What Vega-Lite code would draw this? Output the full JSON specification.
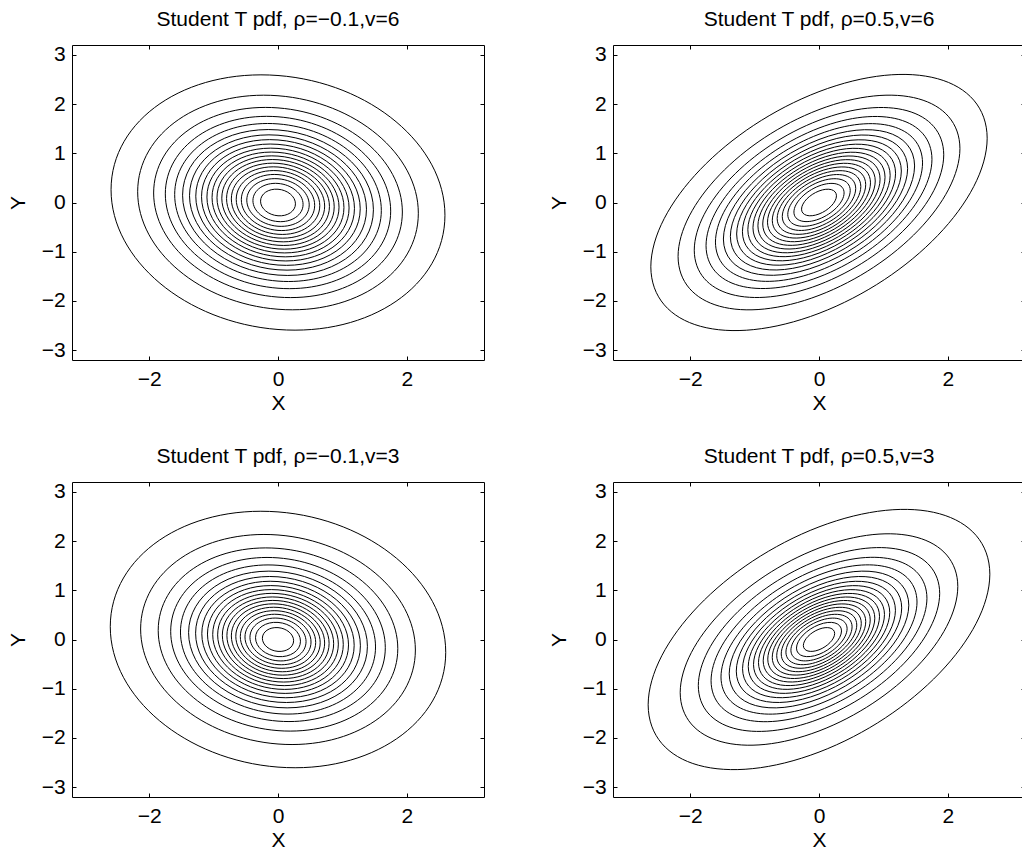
{
  "$schema": "https://vega.github.io/schema/vega-lite/v6.json",
  "background": "white",
  "padding": {"left": 6, "top": 8, "right": 0, "bottom": 0},
  "datasets": {
    "contours": [
      {"panel": "A", "rho": -0.1, "nu": 6, "level": 1, "r": 2.5933, "x": 0, "y": 0},
      {"panel": "A", "rho": -0.1, "nu": 6, "level": 2, "r": 2.1800, "x": 0, "y": 0},
      {"panel": "A", "rho": -0.1, "nu": 6, "level": 3, "r": 1.9318, "x": 0, "y": 0},
      {"panel": "A", "rho": -0.1, "nu": 6, "level": 4, "r": 1.7504, "x": 0, "y": 0},
      {"panel": "A", "rho": -0.1, "nu": 6, "level": 5, "r": 1.6051, "x": 0, "y": 0},
      {"panel": "A", "rho": -0.1, "nu": 6, "level": 6, "r": 1.4822, "x": 0, "y": 0},
      {"panel": "A", "rho": -0.1, "nu": 6, "level": 7, "r": 1.3744, "x": 0, "y": 0},
      {"panel": "A", "rho": -0.1, "nu": 6, "level": 8, "r": 1.2772, "x": 0, "y": 0},
      {"panel": "A", "rho": -0.1, "nu": 6, "level": 9, "r": 1.1878, "x": 0, "y": 0},
      {"panel": "A", "rho": -0.1, "nu": 6, "level": 10, "r": 1.1041, "x": 0, "y": 0},
      {"panel": "A", "rho": -0.1, "nu": 6, "level": 11, "r": 1.0245, "x": 0, "y": 0},
      {"panel": "A", "rho": -0.1, "nu": 6, "level": 12, "r": 0.9479, "x": 0, "y": 0},
      {"panel": "A", "rho": -0.1, "nu": 6, "level": 13, "r": 0.8731, "x": 0, "y": 0},
      {"panel": "A", "rho": -0.1, "nu": 6, "level": 14, "r": 0.7991, "x": 0, "y": 0},
      {"panel": "A", "rho": -0.1, "nu": 6, "level": 15, "r": 0.7248, "x": 0, "y": 0},
      {"panel": "A", "rho": -0.1, "nu": 6, "level": 16, "r": 0.6489, "x": 0, "y": 0},
      {"panel": "A", "rho": -0.1, "nu": 6, "level": 17, "r": 0.5699, "x": 0, "y": 0},
      {"panel": "A", "rho": -0.1, "nu": 6, "level": 18, "r": 0.4850, "x": 0, "y": 0},
      {"panel": "A", "rho": -0.1, "nu": 6, "level": 19, "r": 0.3895, "x": 0, "y": 0},
      {"panel": "A", "rho": -0.1, "nu": 6, "level": 20, "r": 0.2711, "x": 0, "y": 0},
      {"panel": "B", "rho": 0.5, "nu": 6, "level": 1, "r": 2.6125, "x": 0, "y": 0},
      {"panel": "B", "rho": 0.5, "nu": 6, "level": 2, "r": 2.1893, "x": 0, "y": 0},
      {"panel": "B", "rho": 0.5, "nu": 6, "level": 3, "r": 1.9378, "x": 0, "y": 0},
      {"panel": "B", "rho": 0.5, "nu": 6, "level": 4, "r": 1.7548, "x": 0, "y": 0},
      {"panel": "B", "rho": 0.5, "nu": 6, "level": 5, "r": 1.6085, "x": 0, "y": 0},
      {"panel": "B", "rho": 0.5, "nu": 6, "level": 6, "r": 1.4850, "x": 0, "y": 0},
      {"panel": "B", "rho": 0.5, "nu": 6, "level": 7, "r": 1.3767, "x": 0, "y": 0},
      {"panel": "B", "rho": 0.5, "nu": 6, "level": 8, "r": 1.2792, "x": 0, "y": 0},
      {"panel": "B", "rho": 0.5, "nu": 6, "level": 9, "r": 1.1895, "x": 0, "y": 0},
      {"panel": "B", "rho": 0.5, "nu": 6, "level": 10, "r": 1.1055, "x": 0, "y": 0},
      {"panel": "B", "rho": 0.5, "nu": 6, "level": 11, "r": 1.0258, "x": 0, "y": 0},
      {"panel": "B", "rho": 0.5, "nu": 6, "level": 12, "r": 0.9490, "x": 0, "y": 0},
      {"panel": "B", "rho": 0.5, "nu": 6, "level": 13, "r": 0.8740, "x": 0, "y": 0},
      {"panel": "B", "rho": 0.5, "nu": 6, "level": 14, "r": 0.7999, "x": 0, "y": 0},
      {"panel": "B", "rho": 0.5, "nu": 6, "level": 15, "r": 0.7255, "x": 0, "y": 0},
      {"panel": "B", "rho": 0.5, "nu": 6, "level": 16, "r": 0.6496, "x": 0, "y": 0},
      {"panel": "B", "rho": 0.5, "nu": 6, "level": 17, "r": 0.5704, "x": 0, "y": 0},
      {"panel": "B", "rho": 0.5, "nu": 6, "level": 18, "r": 0.4854, "x": 0, "y": 0},
      {"panel": "B", "rho": 0.5, "nu": 6, "level": 19, "r": 0.3898, "x": 0, "y": 0},
      {"panel": "B", "rho": 0.5, "nu": 6, "level": 20, "r": 0.2713, "x": 0, "y": 0},
      {"panel": "C", "rho": -0.1, "nu": 3, "level": 1, "r": 2.6055, "x": 0, "y": 0},
      {"panel": "C", "rho": -0.1, "nu": 3, "level": 2, "r": 2.1340, "x": 0, "y": 0},
      {"panel": "C", "rho": -0.1, "nu": 3, "level": 3, "r": 1.8609, "x": 0, "y": 0},
      {"panel": "C", "rho": -0.1, "nu": 3, "level": 4, "r": 1.6669, "x": 0, "y": 0},
      {"panel": "C", "rho": -0.1, "nu": 3, "level": 5, "r": 1.5150, "x": 0, "y": 0},
      {"panel": "C", "rho": -0.1, "nu": 3, "level": 6, "r": 1.3889, "x": 0, "y": 0},
      {"panel": "C", "rho": -0.1, "nu": 3, "level": 7, "r": 1.2801, "x": 0, "y": 0},
      {"panel": "C", "rho": -0.1, "nu": 3, "level": 8, "r": 1.1833, "x": 0, "y": 0},
      {"panel": "C", "rho": -0.1, "nu": 3, "level": 9, "r": 1.0954, "x": 0, "y": 0},
      {"panel": "C", "rho": -0.1, "nu": 3, "level": 10, "r": 1.0141, "x": 0, "y": 0},
      {"panel": "C", "rho": -0.1, "nu": 3, "level": 11, "r": 0.9376, "x": 0, "y": 0},
      {"panel": "C", "rho": -0.1, "nu": 3, "level": 12, "r": 0.8646, "x": 0, "y": 0},
      {"panel": "C", "rho": -0.1, "nu": 3, "level": 13, "r": 0.7939, "x": 0, "y": 0},
      {"panel": "C", "rho": -0.1, "nu": 3, "level": 14, "r": 0.7246, "x": 0, "y": 0},
      {"panel": "C", "rho": -0.1, "nu": 3, "level": 15, "r": 0.6555, "x": 0, "y": 0},
      {"panel": "C", "rho": -0.1, "nu": 3, "level": 16, "r": 0.5855, "x": 0, "y": 0},
      {"panel": "C", "rho": -0.1, "nu": 3, "level": 17, "r": 0.5130, "x": 0, "y": 0},
      {"panel": "C", "rho": -0.1, "nu": 3, "level": 18, "r": 0.4357, "x": 0, "y": 0},
      {"panel": "C", "rho": -0.1, "nu": 3, "level": 19, "r": 0.3492, "x": 0, "y": 0},
      {"panel": "C", "rho": -0.1, "nu": 3, "level": 20, "r": 0.2426, "x": 0, "y": 0},
      {"panel": "D", "rho": 0.5, "nu": 3, "level": 1, "r": 2.6540, "x": 0, "y": 0},
      {"panel": "D", "rho": 0.5, "nu": 3, "level": 2, "r": 2.1563, "x": 0, "y": 0},
      {"panel": "D", "rho": 0.5, "nu": 3, "level": 3, "r": 1.8748, "x": 0, "y": 0},
      {"panel": "D", "rho": 0.5, "nu": 3, "level": 4, "r": 1.6768, "x": 0, "y": 0},
      {"panel": "D", "rho": 0.5, "nu": 3, "level": 5, "r": 1.5225, "x": 0, "y": 0},
      {"panel": "D", "rho": 0.5, "nu": 3, "level": 6, "r": 1.3949, "x": 0, "y": 0},
      {"panel": "D", "rho": 0.5, "nu": 3, "level": 7, "r": 1.2849, "x": 0, "y": 0},
      {"panel": "D", "rho": 0.5, "nu": 3, "level": 8, "r": 1.1874, "x": 0, "y": 0},
      {"panel": "D", "rho": 0.5, "nu": 3, "level": 9, "r": 1.0989, "x": 0, "y": 0},
      {"panel": "D", "rho": 0.5, "nu": 3, "level": 10, "r": 1.0171, "x": 0, "y": 0},
      {"panel": "D", "rho": 0.5, "nu": 3, "level": 11, "r": 0.9401, "x": 0, "y": 0},
      {"panel": "D", "rho": 0.5, "nu": 3, "level": 12, "r": 0.8668, "x": 0, "y": 0},
      {"panel": "D", "rho": 0.5, "nu": 3, "level": 13, "r": 0.7958, "x": 0, "y": 0},
      {"panel": "D", "rho": 0.5, "nu": 3, "level": 14, "r": 0.7262, "x": 0, "y": 0},
      {"panel": "D", "rho": 0.5, "nu": 3, "level": 15, "r": 0.6569, "x": 0, "y": 0},
      {"panel": "D", "rho": 0.5, "nu": 3, "level": 16, "r": 0.5867, "x": 0, "y": 0},
      {"panel": "D", "rho": 0.5, "nu": 3, "level": 17, "r": 0.5140, "x": 0, "y": 0},
      {"panel": "D", "rho": 0.5, "nu": 3, "level": 18, "r": 0.4365, "x": 0, "y": 0},
      {"panel": "D", "rho": 0.5, "nu": 3, "level": 19, "r": 0.3498, "x": 0, "y": 0},
      {"panel": "D", "rho": 0.5, "nu": 3, "level": 20, "r": 0.2430, "x": 0, "y": 0}
    ]
  },
  "columns": 2,
  "spacing": {"row": 122, "column": 129},
  "bounds": "flush",
  "concat": [
    {
      "title": "Student T pdf, ρ=−0.1,v=6",
      "width": 412, "height": 315,
      "data": {"name": "contours"},
      "transform": [{"filter": "datum.panel == 'A'"}],
      "layer": [
        {
          "mark": {"type": "point", "shape": "M1,0.076456A1.006789,0.755598,10.104,0,1,-1,-0.076456A1.006789,0.755598,10.104,0,1,1,0.076456Z", "filled": false, "stroke": "black", "strokeWidth": 1, "opacity": 1, "clip": true},
          "encoding": {
            "x": {"field": "x", "type": "quantitative", "scale": {"domain": [-3.2, 3.2], "nice": false, "zero": false}, "axis": {"orient": "bottom", "values": [-2, 0, 2], "title": "X"}},
            "y": {"field": "y", "type": "quantitative", "scale": {"domain": [-3.2, 3.2], "nice": false, "zero": false}, "axis": {"orient": "left", "values": [-3, -2, -1, 0, 1, 2, 3], "title": "Y"}},
            "size": {"field": "r", "type": "quantitative", "scale": {"type": "pow", "exponent": 2, "domain": [0, 3], "range": [0, 149189]}, "legend": null}
          }
        },
        {
          "mark": {"type": "point", "opacity": 0},
          "encoding": {
            "x": {"field": "x", "type": "quantitative", "axis": {"orient": "top", "values": [-2, 0, 2], "labels": false, "title": null}},
            "y": {"field": "y", "type": "quantitative", "axis": {"orient": "right", "values": [-3, -2, -1, 0, 1, 2, 3], "labels": false, "title": null}}
          }
        }
      ],
      "resolve": {"axis": {"x": "independent", "y": "independent"}}
    },
    {
      "title": "Student T pdf, ρ=0.5,v=6",
      "width": 412, "height": 315,
      "data": {"name": "contours"},
      "transform": [{"filter": "datum.panel == 'B'"}],
      "layer": [
        {
          "mark": {"type": "point", "shape": "M1,-0.38228A1.107857,0.597666,-30.739,0,1,-1,0.38228A1.107857,0.597666,-30.739,0,1,1,-0.38228Z", "filled": false, "stroke": "black", "strokeWidth": 1, "opacity": 1, "clip": true},
          "encoding": {
            "x": {"field": "x", "type": "quantitative", "scale": {"domain": [-3.2, 3.2], "nice": false, "zero": false}, "axis": {"orient": "bottom", "values": [-2, 0, 2], "title": "X"}},
            "y": {"field": "y", "type": "quantitative", "scale": {"domain": [-3.2, 3.2], "nice": false, "zero": false}, "axis": {"orient": "left", "values": [-3, -2, -1, 0, 1, 2, 3], "title": "Y"}},
            "size": {"field": "r", "type": "quantitative", "scale": {"type": "pow", "exponent": 2, "domain": [0, 3], "range": [0, 149189]}, "legend": null}
          }
        },
        {
          "mark": {"type": "point", "opacity": 0},
          "encoding": {
            "x": {"field": "x", "type": "quantitative", "axis": {"orient": "top", "values": [-2, 0, 2], "labels": false, "title": null}},
            "y": {"field": "y", "type": "quantitative", "axis": {"orient": "right", "values": [-3, -2, -1, 0, 1, 2, 3], "labels": false, "title": null}}
          }
        }
      ],
      "resolve": {"axis": {"x": "independent", "y": "independent"}}
    },
    {
      "title": "Student T pdf, ρ=−0.1,v=3",
      "width": 412, "height": 315,
      "data": {"name": "contours"},
      "transform": [{"filter": "datum.panel == 'C'"}],
      "layer": [
        {
          "mark": {"type": "point", "shape": "M1,0.076456A1.006789,0.755598,10.104,0,1,-1,-0.076456A1.006789,0.755598,10.104,0,1,1,0.076456Z", "filled": false, "stroke": "black", "strokeWidth": 1, "opacity": 1, "clip": true},
          "encoding": {
            "x": {"field": "x", "type": "quantitative", "scale": {"domain": [-3.2, 3.2], "nice": false, "zero": false}, "axis": {"orient": "bottom", "values": [-2, 0, 2], "title": "X"}},
            "y": {"field": "y", "type": "quantitative", "scale": {"domain": [-3.2, 3.2], "nice": false, "zero": false}, "axis": {"orient": "left", "values": [-3, -2, -1, 0, 1, 2, 3], "title": "Y"}},
            "size": {"field": "r", "type": "quantitative", "scale": {"type": "pow", "exponent": 2, "domain": [0, 3], "range": [0, 149189]}, "legend": null}
          }
        },
        {
          "mark": {"type": "point", "opacity": 0},
          "encoding": {
            "x": {"field": "x", "type": "quantitative", "axis": {"orient": "top", "values": [-2, 0, 2], "labels": false, "title": null}},
            "y": {"field": "y", "type": "quantitative", "axis": {"orient": "right", "values": [-3, -2, -1, 0, 1, 2, 3], "labels": false, "title": null}}
          }
        }
      ],
      "resolve": {"axis": {"x": "independent", "y": "independent"}}
    },
    {
      "title": "Student T pdf, ρ=0.5,v=3",
      "width": 412, "height": 315,
      "data": {"name": "contours"},
      "transform": [{"filter": "datum.panel == 'D'"}],
      "layer": [
        {
          "mark": {"type": "point", "shape": "M1,-0.38228A1.107857,0.597666,-30.739,0,1,-1,0.38228A1.107857,0.597666,-30.739,0,1,1,-0.38228Z", "filled": false, "stroke": "black", "strokeWidth": 1, "opacity": 1, "clip": true},
          "encoding": {
            "x": {"field": "x", "type": "quantitative", "scale": {"domain": [-3.2, 3.2], "nice": false, "zero": false}, "axis": {"orient": "bottom", "values": [-2, 0, 2], "title": "X"}},
            "y": {"field": "y", "type": "quantitative", "scale": {"domain": [-3.2, 3.2], "nice": false, "zero": false}, "axis": {"orient": "left", "values": [-3, -2, -1, 0, 1, 2, 3], "title": "Y"}},
            "size": {"field": "r", "type": "quantitative", "scale": {"type": "pow", "exponent": 2, "domain": [0, 3], "range": [0, 149189]}, "legend": null}
          }
        },
        {
          "mark": {"type": "point", "opacity": 0},
          "encoding": {
            "x": {"field": "x", "type": "quantitative", "axis": {"orient": "top", "values": [-2, 0, 2], "labels": false, "title": null}},
            "y": {"field": "y", "type": "quantitative", "axis": {"orient": "right", "values": [-3, -2, -1, 0, 1, 2, 3], "labels": false, "title": null}}
          }
        }
      ],
      "resolve": {"axis": {"x": "independent", "y": "independent"}}
    }
  ],
  "config": {
    "font": "Liberation Sans",
    "view": {"stroke": "black", "strokeWidth": 1},
    "axis": {"domain": false, "grid": false, "tickSize": -4, "tickColor": "black", "tickWidth": 1, "labelFontSize": 21, "labelColor": "black", "labelFont": "Liberation Sans", "titleFontSize": 21, "titleFontWeight": "normal", "titleColor": "black", "titleFont": "Liberation Sans"},
    "axisBottom": {"labelPadding": 12, "titlePadding": 3},
    "axisLeft": {"labelPadding": 10.7, "titlePadding": 13},
    "title": {"fontSize": 21, "fontWeight": "normal", "color": "black", "font": "Liberation Sans", "baseline": "alphabetic", "offset": 14, "frame": "group", "anchor": "middle"}
  }
}
